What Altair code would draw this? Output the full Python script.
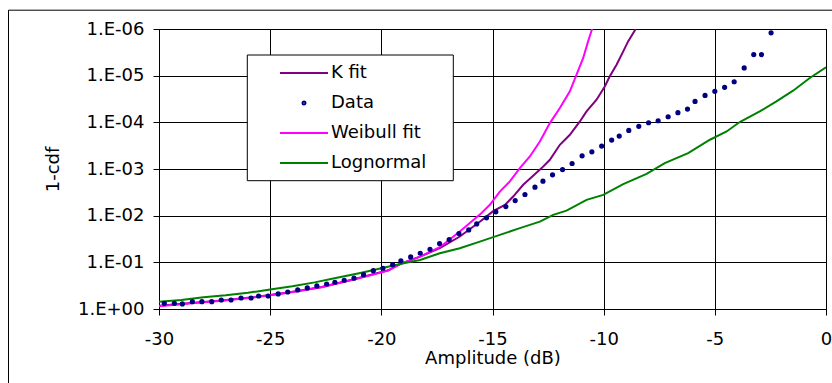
import altair as alt
import pandas as pd

# ---------------- data ----------------
SERIES = ["K fit", "Data", "Weibull fit", "Lognormal"]
COLORS = ["#800080", "#000080", "#FF00FF", "#008000"]

DATA_AMP = [-29.76, -29.31, -28.95, -28.50, -28.07, -27.63, -27.20, -26.76, -26.31, -25.86,
            -25.52, -25.09, -24.64, -24.21, -23.76, -23.33, -22.90, -22.46, -22.09, -21.67,
            -21.23, -20.80, -20.36, -19.93, -19.49, -19.12, -18.68, -18.25, -17.81, -17.38,
            -16.95, -16.51, -16.07, -15.71, -15.27, -14.85, -14.40, -13.98, -13.54, -13.09,
            -12.73, -12.30, -11.85, -11.42, -10.97, -10.53, -10.09, -9.64, -9.30, -8.87,
            -8.42, -7.98, -7.55, -7.10, -6.66, -6.23, -5.89, -5.44, -5.00, -4.56,
            -4.13, -3.68, -3.25, -2.90, -2.47]
DATA_P = [0.755, 0.755, 0.78, 0.697, 0.697, 0.697, 0.641, 0.641, 0.581, 0.581,
          0.526, 0.526, 0.476, 0.432, 0.391, 0.354, 0.321, 0.291, 0.267, 0.242,
          0.219, 0.184, 0.151, 0.134, 0.112, 0.093, 0.0766, 0.0638, 0.0524, 0.0397,
          0.0326, 0.0242, 0.0202, 0.0150, 0.0111, 0.00828, 0.00638, 0.00474, 0.00352, 0.00245,
          0.00182, 0.00133, 0.00103, 7.62e-4, 5.21e-4, 4.28e-4, 3.23e-4, 2.40e-4, 1.97e-4, 1.49e-4,
          1.22e-4, 1.02e-4, 9.24e-5, 7.59e-5, 6.22e-5, 5.19e-5, 3.56e-5, 2.65e-5, 2.17e-5, 1.78e-5,
          1.35e-5, 6.84e-6, 3.54e-6, 3.54e-6, 1.21e-6]

KFIT_AMP = [-30.0, -28.68, -27.18, -25.68, -24.19, -22.68, -21.19, -19.69, -19.16, -18.26,
            -17.37, -16.47, -15.57, -14.97, -14.44, -14.07, -13.62, -13.32, -12.79, -12.42,
            -11.97, -11.52, -11.07, -10.77, -10.32, -9.95, -9.73, -9.42, -9.12, -8.90, -8.56]
KFIT_P = [0.85, 0.75, 0.66, 0.556, 0.443, 0.338, 0.228, 0.148, 0.108, 0.0755,
          0.0498, 0.028, 0.0135, 0.0080, 0.00586, 0.00389, 0.00218, 0.00162, 9.57e-4, 6.35e-4,
          3.03e-4, 1.85e-4, 9.57e-5, 5.83e-5, 3.27e-5, 1.70e-5, 1.04e-5, 5.81e-6, 3.01e-6, 1.84e-6, 1.0e-6]

WEIB_AMP = [-30.0, -28.68, -27.18, -25.68, -24.19, -22.68, -21.19, -19.69, -19.16, -18.26,
            -17.37, -16.47, -15.57, -15.12, -14.67, -14.22, -13.77, -13.32, -12.87, -12.42,
            -11.97, -11.52, -11.22, -10.92, -10.70, -10.52]
WEIB_P = [0.87, 0.76, 0.665, 0.561, 0.447, 0.342, 0.231, 0.151, 0.11, 0.0755,
          0.0474, 0.0219, 0.0095, 0.00586, 0.00304, 0.00185, 9.57e-4, 5.40e-4, 2.57e-4, 1.04e-4,
          4.93e-5, 2.17e-5, 9.5e-6, 4.17e-6, 1.84e-6, 1.0e-6]

LOGN_AMP = [-30.0, -29.0, -28.0, -27.0, -26.0, -25.0, -24.0, -23.0, -22.0, -21.0,
            -20.0, -19.0, -18.26, -17.37, -16.47, -15.57, -14.67, -13.77, -12.87, -12.27,
            -11.67, -10.77, -10.02, -9.12, -8.07, -7.25, -6.20, -5.22, -4.47, -3.88,
            -2.98, -2.23, -1.48, -0.73, 0.0]
LOGN_P = [0.70, 0.645, 0.562, 0.51, 0.45, 0.382, 0.327, 0.269, 0.214, 0.171,
          0.134, 0.1045, 0.0888, 0.0638, 0.0498, 0.036, 0.0258, 0.0185, 0.0134, 0.0096,
          0.00778, 0.00458, 0.00358, 0.00211, 0.00127, 7.46e-4, 4.56e-4, 2.36e-4, 1.57e-4, 9.86e-5,
          5.83e-5, 3.56e-5, 2.1e-5, 1.12e-5, 6.6e-6]

X_TICKS = [-30, -25, -20, -15, -10, -5, 0]
Y_TICKS = [1, 1e-1, 1e-2, 1e-3, 1e-4, 1e-5, 1e-6]
Y_TICK_LABELS = ["1.E+00", "1.E-01", "1.E-02", "1.E-03", "1.E-04", "1.E-05", "1.E-06"]

# ---------------- table ----------------
rows = []
for name, amps, ps in [("K fit", KFIT_AMP, KFIT_P), ("Data", DATA_AMP, DATA_P),
                       ("Weibull fit", WEIB_AMP, WEIB_P), ("Lognormal", LOGN_AMP, LOGN_P)]:
    for a, p in zip(amps, ps):
        rows.append({"series": name, "amp": a, "p": p})
df = pd.DataFrame(rows)

FONT = "DejaVu Sans"
label_list = ",".join("'" + s + "'" for s in Y_TICK_LABELS)
y_label_expr = "[" + label_list + "][round(-log(datum.value)/log(10))]"

LINE_PATH = "M-1,0L7,0"
DOT_PATH = "M0.25,0A0.25,0.25,0,1,1,-0.25,0A0.25,0.25,0,1,1,0.25,0Z"
LEGEND_DOT_PATH = "M3.25,0A0.25,0.25,0,1,1,2.75,0A0.25,0.25,0,1,1,3.25,0Z"

color_scale = alt.Scale(domain=SERIES, range=COLORS)
# legend symbols: line segments for fitted curves, a dot for the data
shape_scale = alt.Scale(domain=SERIES,
                        range=[LINE_PATH if s != "Data" else LEGEND_DOT_PATH for s in SERIES])

x_enc = alt.X("amp:Q",
              scale=alt.Scale(domain=[-30, 0], nice=False, zero=False),
              axis=alt.Axis(values=X_TICKS, title="Amplitude (dB)", labelExpr="'' + datum.value",
                            labelFlush=False, labelPadding=15, titleY=49.5,
                            titleBaseline="middle"))
y_enc = alt.Y("p:Q",
              scale=alt.Scale(type="log", domain=[1e-6, 1], reverse=True, nice=False),
              axis=alt.Axis(values=Y_TICKS, labelExpr=y_label_expr, title="1-cdf",
                            labelFlush=False, labelPadding=9, titleX=-105.5, titleY=140,
                            titleAngle=270, titleBaseline="middle", titleAlign="center"))

legend = alt.Legend(
    title=None, orient="none", legendX=88, legendY=26, direction="vertical",
    fillColor="transparent", strokeColor="transparent", padding=9, rowPadding=12,
    symbolSize=144, symbolStrokeWidth=2, symbolOffset=21, labelOffset=36,
    symbolOpacity=1,
    labelFont=FONT, labelFontSize=18, labelColor="black",
)

frame = alt.Chart(pd.DataFrame({"k": [0]})).mark_rect(
    fill="transparent", stroke="black", strokeWidth=1
).encode(x=alt.value(-150.5), x2=alt.value(700), y=alt.value(-18.8), y2=alt.value(420))

legend_box = alt.Chart(pd.DataFrame({"k": [0]})).mark_rect(
    fill="white", stroke="black", strokeWidth=1
).encode(x=alt.value(88.3), x2=alt.value(294.3), y=alt.value(26), y2=alt.value(151.7))

lines = alt.Chart(df).transform_filter(alt.datum.series != "Data").mark_line(
    strokeWidth=2, clip=True
).encode(x=x_enc, y=y_enc, color=alt.Color("series:N", scale=color_scale, legend=legend))

points = alt.Chart(df).transform_filter(alt.datum.series == "Data").mark_point(
    filled=False, size=108, opacity=1, strokeWidth=2.6, shape=DOT_PATH
).encode(x=x_enc, y=y_enc,
         color=alt.Color("series:N", scale=color_scale, legend=legend))

# invisible layer that carries the legend's symbol shapes
legend_shapes = alt.Chart(df).transform_filter(alt.datum.series == "Data").mark_point(
    filled=False, opacity=0, size=0
).encode(x=x_enc, y=y_enc,
         color=alt.Color("series:N", scale=color_scale, legend=legend),
         shape=alt.Shape("series:N", scale=shape_scale, legend=legend))

chart = alt.layer(frame, lines, points, legend_box, legend_shapes).properties(
    width=667, height=280,
    autosize=alt.AutoSizeParams(type="none"),
    padding={"left": 159, "top": 29, "right": 6, "bottom": 74},
    background="white",
).configure_view(
    stroke="#000000", strokeWidth=1, fill="white"
).configure_axis(
    labelFont=FONT, labelFontSize=18, labelColor="black",
    titleFont=FONT, titleFontSize=18, titleColor="black", titleFontWeight="normal",
    tickColor="black", tickSize=6, tickWidth=1,
    domainColor="black", domainWidth=1,
    gridColor="black", gridWidth=1, gridOpacity=1,
).configure_legend(
    labelFont=FONT,
)

chart.save("out.html", embed_options={"renderer": "svg", "actions": False})
